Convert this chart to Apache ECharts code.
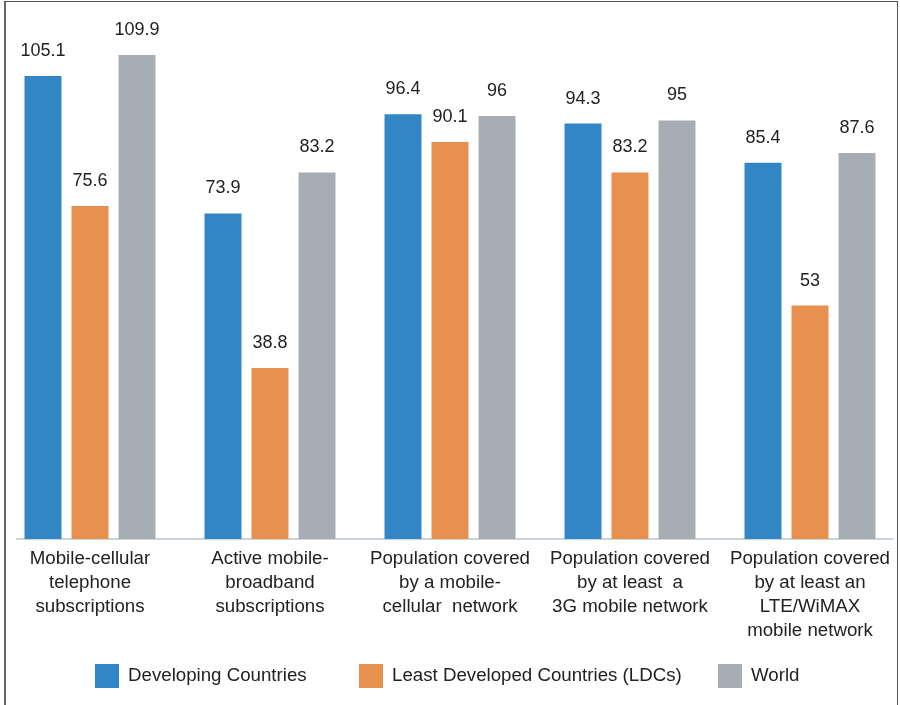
<!DOCTYPE html>
<html>
<head>
<meta charset="utf-8">
<script src="https://cdn.jsdelivr.net/npm/echarts@6/dist/echarts.min.js"></script>
<style>
html,body{margin:0;padding:0;background:#fff;}
#wrap{position:relative;width:900px;height:705px;overflow:hidden;}
#chart{position:absolute;left:0;top:0;width:900px;height:705px;}
#frame{position:absolute;left:4px;top:1px;width:894px;height:720px;border:1.5px solid #555;border-left:2px solid #666;box-sizing:border-box;pointer-events:none;}
</style>
</head>
<body>
<div id="wrap"><div id="chart"></div><div id="frame"></div></div>
<script>
const categories = [
  "Mobile-cellular\ntelephone\nsubscriptions",
  "Active mobile-\nbroadband\nsubscriptions",
  "Population covered\nby a mobile-\ncellular  network",
  "Population covered\nby at least  a\n3G mobile network",
  "Population covered\nby at least an\nLTE/WiMAX\nmobile network"
];
const seriesNames = ["Developing Countries", "Least Developed Countries (LDCs)", "World"];
const developing = [105.1, 73.9, 96.4, 94.3, 85.4];
const ldcs = [75.6, 38.8, 90.1, 83.2, 53];
const world = [109.9, 83.2, 96, 95, 87.6];
const colors = ["#3286c6", "#e8914f", "#a7adb5"];

const font = "'Liberation Sans', Arial, sans-serif";
const chart = echarts.init(document.getElementById('chart'), null, {renderer: 'canvas'});
const seriesData = [developing, ldcs, world];

const series = seriesData.map((d, i) => ({
  name: seriesNames[i],
  type: 'bar',
  xAxisIndex: 0,
  yAxisIndex: 0,
  data: d,
  barWidth: 37,
  barGap: '27%',
  itemStyle: {color: colors[i]},
  label: {
    show: true,
    position: 'top',
    distance: 16,
    color: '#222',
    fontFamily: font,
    fontSize: 18
  }
}));

const legendLefts = [95, 359, 718];
const legends = seriesNames.map((n, i) => ({
  data: [n],
  left: legendLefts[i],
  top: 664,
  padding: 0,
  itemWidth: 24,
  itemHeight: 24,
  icon: 'rect',
  selectedMode: false,
  textStyle: {color: '#222', fontFamily: font, fontSize: 18.7, padding: [3, 0, 0, 4]}
}));

chart.setOption({
  animation: false,
  backgroundColor: '#fff',
  legend: legends,
  grid: [
    {left: 0, right: 0, top: 10.4, bottom: 166},
    {left: 17, right: 7, top: 10.4, bottom: 166}
  ],
  xAxis: [
    {
      type: 'category',
      gridIndex: 0,
      data: categories,
      axisLine: {show: false},
      axisTick: {show: false},
      axisLabel: {
        color: '#222',
        fontFamily: font,
        fontSize: 18.7,
        lineHeight: 24,
        margin: 8,
        interval: 0
      }
    },
    {
      type: 'value',
      gridIndex: 1,
      min: 0, max: 1,
      axisLine: {show: true, onZero: false, lineStyle: {color: '#cdd3da', width: 2}},
      axisTick: {show: false},
      axisLabel: {show: false},
      splitLine: {show: false}
    }
  ],
  yAxis: [
    {type: 'value', gridIndex: 0, min: 0, max: 120, show: false, splitLine: {show: false}},
    {type: 'value', gridIndex: 1, min: 0, max: 1, show: false, splitLine: {show: false}}
  ],
  series: series
});
</script>
</body>
</html>
